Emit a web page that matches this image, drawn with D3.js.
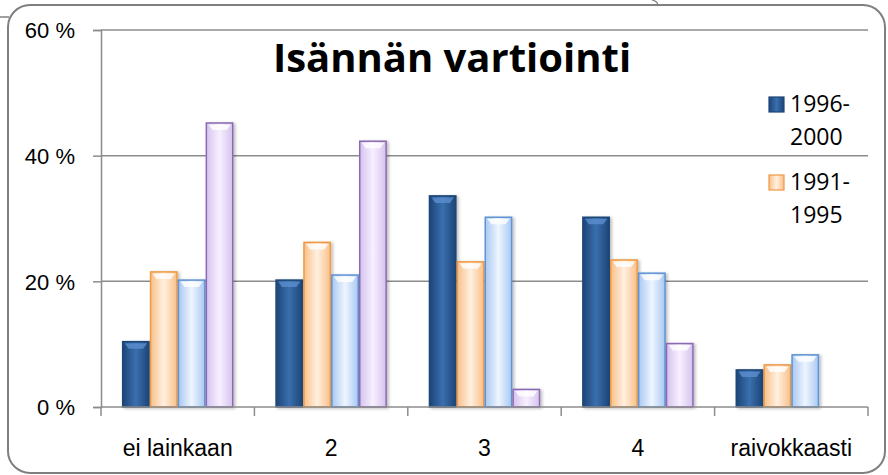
<!DOCTYPE html>
<html>
<head>
<meta charset="utf-8">
<style>
  body { margin: 0; background: #fff; }
  svg { display: block; font-family: "Open Sans", Lato, sans-serif; }
  .grid line { stroke: #8c8c8c; stroke-width: 1.5; }
  .axis path, .axis line { stroke: #8c8c8c; stroke-width: 1.5; }
  .axis text { fill: #000; }
</style>
</head>
<body>
<svg width="888" height="475"></svg>
<script src="https://cdn.jsdelivr.net/npm/d3@7"></script>
<script>
// data
var categories = ["ei lainkaan", "2", "3", "4", "raivokkaasti"];
var seriesKeys = ["s1", "s2", "s3", "s4"];
var s1 = [10.4, 20.2, 33.6, 30.2, 5.9];   // 1996-2000
var s2 = [21.5, 26.2, 23.1, 23.4, 6.7];   // 1991-1995
var s3 = [20.2, 21.0, 30.2, 21.3, 8.3];
var s4 = [45.2, 42.3, 2.8, 10.1, null];
var yTicks = [0, 20, 40, 60];
var legendLabels = [["1996-", "2000"], ["1991-", "1995"]];
var title = "Isännän vartiointi";

var seriesValues = [s1, s2, s3, s4];
var colors = [
  { edge: "#1d4577", mid: "#3a6fae", stroke: "#1f4778" },
  { edge: "#f9c08a", mid: "#fff0e0", stroke: "#ee9a45" },
  { edge: "#a9c8f2", mid: "#eef5ff", stroke: "#5f93d3" },
  { edge: "#d6c2ee", mid: "#f7f0ff", stroke: "#8a6bb0" }
];

var svg = d3.select("svg");
var margin = { left: 101, right: 20, top: 30, bottom: 68 };
var plotW = 868 - margin.left, plotH = 407 - margin.top;

// outer frame with rounded corners + bits of neighbouring shapes
svg.append("rect").attr("x", 8).attr("y", 5).attr("width", 877).attr("height", 468)
  .attr("rx", 22).attr("fill", "#fff").attr("stroke", "#7f7f7f").attr("stroke-width", 2);
svg.append("path").attr("d", "M0,17 L9,17").attr("stroke", "#7f7f7f").attr("stroke-width", 1.5);
svg.append("path").attr("d", "M652,0 Q659,2 657,5").attr("fill", "none").attr("stroke", "#7f7f7f").attr("stroke-width", 1.2);

var defs = svg.append("defs");
colors.forEach(function(c, i) {
  var g = defs.append("linearGradient").attr("id", "grad" + i)
    .attr("x1", "0").attr("x2", "1").attr("y1", "0").attr("y2", "0");
  g.append("stop").attr("offset", "0%").attr("stop-color", c.edge);
  g.append("stop").attr("offset", "50%").attr("stop-color", c.mid);
  g.append("stop").attr("offset", "100%").attr("stop-color", c.edge);
});
defs.append("filter").attr("id", "shadow").attr("x", "-20%").attr("y", "-20%").attr("width", "150%").attr("height", "150%")
  .append("feDropShadow").attr("dx", 2).attr("dy", 1).attr("stdDeviation", 1.5)
  .attr("flood-color", "#000").attr("flood-opacity", 0.25);

var g = svg.append("g").attr("transform", "translate(" + margin.left + "," + margin.top + ")");

var x0 = d3.scaleBand().domain(categories).range([0, plotW]).paddingInner(0).paddingOuter(0);
var x1 = d3.scaleBand().domain(seriesKeys).range([0, x0.bandwidth()]).paddingOuter(0.75).paddingInner(0);
var y = d3.scaleLinear().domain([0, 60]).range([plotH, 0]);

// gridlines
g.append("g").attr("class", "grid")
  .selectAll("line").data(yTicks.filter(function(d) { return d > 0; }))
  .enter().append("line")
  .attr("x1", 0).attr("x2", plotW)
  .attr("y1", function(d) { return y(d); }).attr("y2", function(d) { return y(d); });

// bars
var rows = [];
categories.forEach(function(cat, ci) {
  seriesValues.forEach(function(vals, si) {
    if (vals[ci] != null) rows.push({ cat: cat, key: seriesKeys[si], si: si, value: vals[ci] });
  });
});

var bars = g.append("g").selectAll("g").data(rows).enter().append("g")
  .attr("filter", "url(#shadow)");
bars.append("rect")
  .attr("x", function(d) { return x0(d.cat) + x1(d.key) + 0.75; })
  .attr("y", function(d) { return y(d.value); })
  .attr("width", x1.bandwidth() - 1.5)
  .attr("height", function(d) { return plotH - y(d.value); })
  .attr("fill", function(d) { return "url(#grad" + d.si + ")"; })
  .attr("stroke", function(d) { return colors[d.si].stroke; })
  .attr("stroke-width", 1.5);
// bevel highlight on top of each bar
bars.append("path")
  .attr("d", function(d) {
    var bx = x0(d.cat) + x1(d.key) + 0.75, bw = x1.bandwidth() - 1.5, by = y(d.value);
    var h = Math.min(7, (plotH - by) / 2);
    return "M" + (bx + 2) + "," + (by + 1.5) + "L" + (bx + bw - 2) + "," + (by + 1.5) +
      "L" + (bx + bw - 6) + "," + (by + h) + "L" + (bx + 6) + "," + (by + h) + "Z";
  })
  .attr("fill", function(d) { return d.si === 0 ? "#5b8fd0" : "#ffffff"; })
  .attr("opacity", 0.8);

// axes
var yAxis = d3.axisLeft(y).tickValues(yTicks).tickSize(8).tickPadding(18)
  .tickFormat(function(d) { return d + " %"; });
var yg = g.append("g").attr("class", "axis").call(yAxis);
yg.selectAll("text").style("font-size", "22px").attr("dy", "0.35em");

var xAxis = d3.axisBottom(x0).tickSize(0).tickPadding(33);
var xg = g.append("g").attr("class", "axis").attr("transform", "translate(0," + plotH + ")").call(xAxis);
xg.selectAll("text").style("font-size", "23px");
xg.select(".domain").attr("d", "M0,0H" + plotW);
// category boundary ticks
xg.selectAll(".bound").data(d3.range(categories.length + 1)).enter().append("line")
  .attr("class", "bound")
  .attr("x1", function(i) { return i * x0.step(); }).attr("x2", function(i) { return i * x0.step(); })
  .attr("y1", 0).attr("y2", 9);

// title
svg.append("text").attr("x", 452).attr("y", 72).attr("text-anchor", "middle")
  .style("font-size", "40px").attr("font-weight", "bold").text(title);

// legend (only two entries visible)
var leg = svg.append("g").attr("transform", "translate(769,97)");
legendLabels.forEach(function(lines, i) {
  var e = leg.append("g").attr("transform", "translate(0," + (i * 78) + ")");
  e.append("rect").attr("width", 15).attr("height", 15)
    .attr("fill", "url(#grad" + i + ")").attr("stroke", colors[i].stroke).attr("stroke-width", 1.2);
  e.selectAll("text").data(lines).enter().append("text")
    .attr("x", 21).attr("y", function(d, j) { return 15 + j * 33; })
    .style("font-size", "23px").text(function(d) { return d; });
});
</script>
</body>
</html>
